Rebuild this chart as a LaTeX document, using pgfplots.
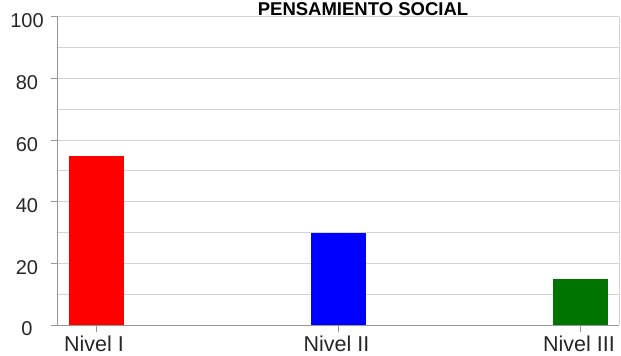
\documentclass[border=0pt]{standalone}
\usepackage{pgfplots}
\pgfplotsset{compat=1.18}
\usepackage{fontspec}
\setmainfont{Liberation Sans}
\definecolor{axgray}{RGB}{150,150,150}
\definecolor{gridgray}{RGB}{212,212,212}
\definecolor{barred}{RGB}{255,0,0}
\definecolor{barblue}{RGB}{0,0,255}
\definecolor{bargreen}{RGB}{0,116,0}
\begin{document}
\begin{tikzpicture}
\begin{axis}[
  scale only axis,
  width=561pt, height=308pt,
  xmin=-0.157, xmax=2.157,
  ymin=0, ymax=100,
  ytick={0,20,40,60,80,100},
  minor ytick={10,30,50,70,90},
  ymajorgrids, yminorgrids,
  major grid style={gridgray, line width=1pt},
  minor grid style={gridgray, line width=1pt},
  xtick={0,1,2},
  xticklabels={Nivel I, Nivel II, Nivel III},
  axis line style={axgray, line width=1pt},
  axis x line*=bottom,
  axis y line*=left,
  tick style={axgray, line width=1pt},
  major tick length=7pt,
  minor tick length=0pt,
  tick align=outside,
  tick label style={text=black!85, inner sep=0pt},
  /pgf/number format/assume math mode=true,
  xticklabel style={font=\fontsize{21.5}{21.5}\selectfont, anchor=north, xshift=-2pt, yshift=-4pt},
  yticklabel style={font=\fontsize{20}{20}\selectfont, anchor=center, xshift=-24pt, yshift=-4pt},
  title={PENSAMIENTO SOCIAL},
  title style={at={(0.5437,1)}, anchor=base, yshift=-5pt, inner sep=0pt, font=\bfseries\fontsize{18.5}{18.5}\selectfont},
  ybar, bar width=55pt, bar shift=0pt,
  clip=false,
]
\draw[gridgray, line width=1pt] (rel axis cs:1,0) -- (rel axis cs:1,1);
\addplot[fill=barred, draw=none] coordinates {(0,55)};
\addplot[fill=barblue, draw=none] coordinates {(1,30)};
\addplot[fill=bargreen, draw=none] coordinates {(2,15)};
\end{axis}
\pgfresetboundingbox
\path[use as bounding box] (-58pt,-31pt) rectangle (563pt,325pt);
\end{tikzpicture}
\end{document}
